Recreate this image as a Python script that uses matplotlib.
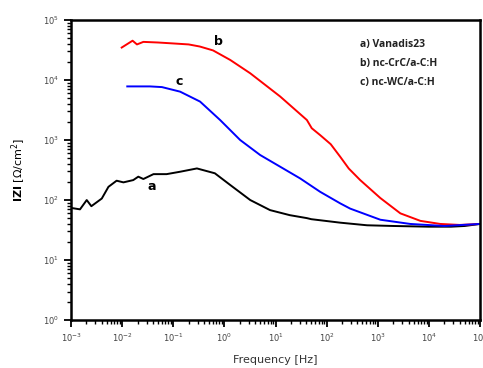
import matplotlib.pyplot as plt
from matplotlib.ticker import LogLocator, LogFormatterSciNotation, NullFormatter

# a) Vanadis23
freq_a = [1e-3, 1.5e-3, 2.03e-3, 2.5e-3, 4e-3, 5.4e-3, 7.8e-3, 0.0106, 0.0165, 0.0207, 0.026,
          0.041, 0.074, 0.136, 0.29, 0.65, 1.3, 3.2, 7.8, 19, 41, 50, 184, 616, 2000, 1e4,
          2.7e4, 5e4, 1e5]
z_a = [74, 70, 100, 79, 106, 166, 210, 197, 215, 245, 224, 270, 270, 296, 336, 279, 178, 100,
       68, 56, 50, 48, 42, 38, 37, 36, 36, 37, 40]

# b) nc-CrC/a-C:H
freq_b = [0.0098, 0.016, 0.0195, 0.026, 0.05, 0.1, 0.2, 0.33, 0.6, 1.3, 3.2, 12.3, 41, 51,
          75, 120, 184, 270, 452, 1120, 2760, 6800, 16600, 4e4, 1e5]
z_b = [34600, 45000, 39000, 43000, 42000, 40500, 39000, 36000, 31000, 21500, 12900, 5300,
       2150, 1570, 1200, 850, 525, 335, 215, 108, 60, 45, 40, 38.5, 40]

# c) nc-WC/a-C:H
freq_c = [0.0126, 0.035, 0.06, 0.136, 0.334, 0.824, 2.03, 5.0, 12.3, 30.3, 74.6, 184, 288,
          1120, 4300, 2e4, 1e5]
z_c = [7800, 7800, 7600, 6380, 4360, 2150, 1000, 562, 359, 229, 137, 88, 72, 47, 40, 37, 40]

legend_lines = ["a) Vanadis23", "b) nc-CrC/a-C:H", "c) nc-WC/a-C:H"]

fig = plt.figure(figsize=(4.83, 3.68), dpi=100)
ax = fig.add_axes([0.147, 0.130, 0.847, 0.816])

ax.plot(freq_a, z_a, color='black', lw=1.4)
ax.plot(freq_b, z_b, color='red', lw=1.4)
ax.plot(freq_c, z_c, color='blue', lw=1.4)

ax.set_xscale('log')
ax.set_yscale('log')
ax.set_xlim(1e-3, 1e5)
ax.set_ylim(1, 1e5)

for axis in (ax.xaxis, ax.yaxis):
    axis.set_major_locator(LogLocator(base=10, numticks=20))
    axis.set_minor_locator(LogLocator(base=10, subs=range(2, 10), numticks=20))
    axis.set_major_formatter(LogFormatterSciNotation())
    axis.set_minor_formatter(NullFormatter())

ax.tick_params(which='major', direction='out', length=5, width=1.3, labelsize=6,
               labelcolor='#444444', top=False, right=False)
ax.tick_params(which='minor', direction='out', length=3, width=1.0, top=False, right=False)
for s in ax.spines.values():
    s.set_linewidth(1.8)

ax.set_xlabel("Frequency [Hz]", fontsize=8, color='#333333', labelpad=8)
ax.set_ylabel(r"$\mathbf{IZI}$ [$\Omega$/cm$^2$]", fontsize=8, labelpad=11)

ax.text(0.038, 165, "a", fontsize=9, fontweight='bold', ha='center', va='center')
ax.text(0.75, 43000, "b", fontsize=9, fontweight='bold', ha='center', va='center')
ax.text(0.13, 9300, "c", fontsize=9, fontweight='bold', ha='center', va='center')

for i, t in enumerate(legend_lines):
    ax.text(0.707, 0.917 - i * 0.062, t, transform=ax.transAxes, fontsize=7.5,
            fontweight='bold', color='#222222', ha='left', va='center', family='Open Sans')

fig.savefig("out.png", dpi=100)
